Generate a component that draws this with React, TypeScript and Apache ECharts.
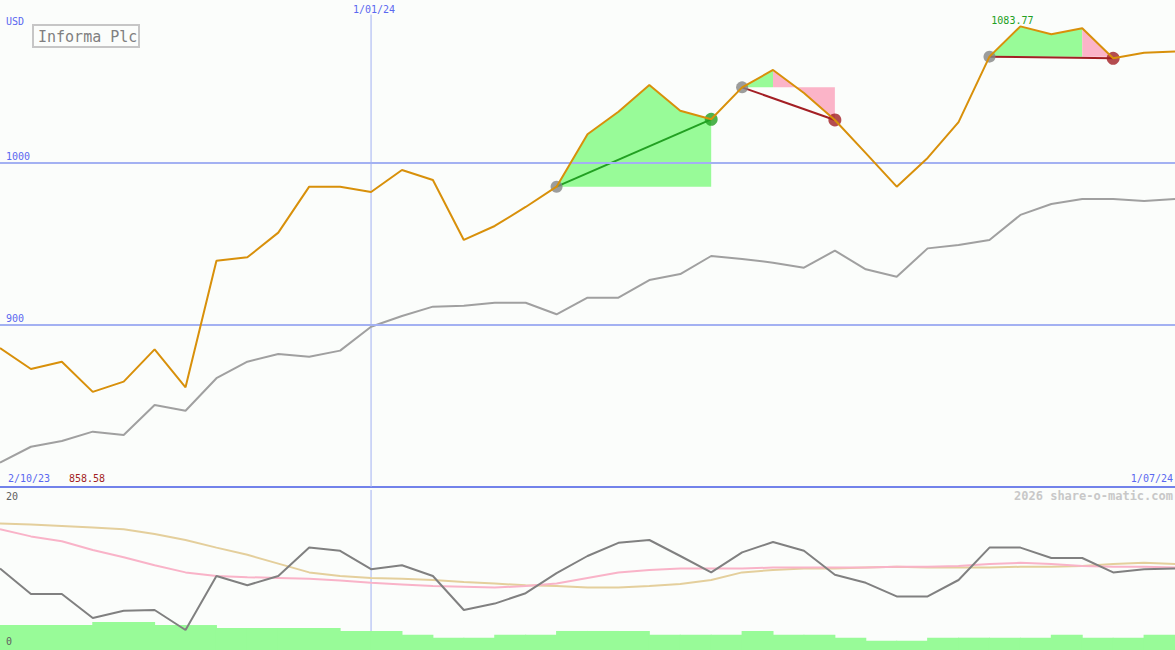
import React, { useEffect, useRef } from "react";
import * as echarts from "echarts";

// ---- data ----
const dates = [
  "9/10/23", "16/10/23", "23/10/23", "30/10/23", "6/11/23", "13/11/23", "20/11/23", "27/11/23",
  "4/12/23", "11/12/23", "18/12/23", "25/12/23", "1/01/24", "8/01/24", "15/01/24", "22/01/24",
  "29/01/24", "5/02/24", "12/02/24", "19/02/24", "26/02/24", "4/03/24", "11/03/24", "18/03/24",
  "25/03/24", "1/04/24", "8/04/24", "15/04/24", "22/04/24", "29/04/24", "6/05/24", "13/05/24",
  "20/05/24", "27/05/24", "3/06/24", "10/06/24", "17/06/24", "24/06/24", "1/07/24",
];
const periodStart = "2/10/23";
const markedDate = "1/01/24";
const title = "Informa Plc";
const currency = "USD";
const credit = "2026 share-o-matic.com";

const price = [
  885.6, 872.7, 877.2, 858.58, 864.9, 884.8, 861.4, 939.4, 941.5, 956.7, 985.0, 985.0, 981.7,
  995.3, 989.1, 952.2, 960.8, 972.5, 985.0, 1017.3, 1031.2, 1047.6, 1031.8, 1026.5, 1046.2,
  1056.9, 1042.7, 1026.1, 1005.7, 985.0, 1002.7, 1024.8, 1065.1, 1083.77, 1078.9, 1082.6,
  1064.1, 1067.5, 1068.2,
];
const movingAvg = [
  815.0, 824.8, 828.3, 834.1, 832.0, 850.5, 847.0, 867.0, 877.2, 881.9, 880.3, 884.0, 898.7,
  905.3, 911.1, 911.7, 913.5, 913.5, 906.4, 916.6, 916.6, 927.5, 931.2, 942.3, 940.5, 938.2,
  935.1, 945.6, 934.1, 929.5, 947.0, 949.1, 952.2, 967.6, 974.3, 977.4, 977.4, 976.2, 977.4,
];
const oscillator = [
  10.2, 7.0, 7.0, 4.0, 4.9, 5.0, 2.5, 9.25, 8.1, 9.25, 12.8, 12.4, 10.1, 10.6, 9.25, 5.0, 5.8,
  7.1, 9.6, 11.75, 13.4, 13.75, 11.75, 9.7, 12.2, 13.5, 12.4, 9.4, 8.4, 6.7, 6.7, 8.75, 12.8,
  12.8, 11.5, 11.5, 9.7, 10.1, 10.2,
];
const signalFast = [
  15.1, 14.2, 13.6, 12.5, 11.6, 10.6, 9.7, 9.25, 9.1, 9.0, 8.9, 8.7, 8.4, 8.2, 8.0, 7.9, 7.8,
  8.0, 8.3, 9.0, 9.7, 10.0, 10.2, 10.2, 10.2, 10.3, 10.3, 10.3, 10.3, 10.4, 10.4, 10.5, 10.75,
  10.9, 10.75, 10.5, 10.4, 10.4, 10.3,
];
const signalSlow = [
  15.8, 15.7, 15.5, 15.3, 15.1, 14.5, 13.75, 12.8, 11.9, 10.8, 9.7, 9.25, 9.0, 8.9, 8.75, 8.5,
  8.3, 8.1, 8.0, 7.8, 7.8, 8.0, 8.25, 8.75, 9.7, 10.0, 10.2, 10.2, 10.3, 10.4, 10.3, 10.3, 10.3,
  10.4, 10.4, 10.5, 10.75, 10.9, 10.75,
];
// one value per week-interval (between consecutive points)
const volume = [
  15.6, 15.6, 15.6, 17.5, 17.5, 15.6, 15.6, 13.8, 13.8, 13.8, 13.8, 11.9, 11.9, 9.6, 7.7, 7.7,
  9.6, 9.6, 11.9, 11.9, 11.9, 9.6, 9.6, 9.6, 11.9, 9.6, 9.6, 7.7, 5.8, 5.8, 7.7, 7.7, 7.7, 7.7,
  9.6, 7.7, 7.7, 9.6,
];
// trades: entry index, exit index, index where fill turns from gain to loss colour
const tradeEntry = [18, 24, 32];
const tradeExit = [23, 27, 36];
const tradeTurn = [23, 25, 35];

// ---- styles ----
const BG = "#fbfdfb";
const ORANGE = "#d8900a";
const GREY = "#a0a0a0";
const GRID_BLUE = "#a3b1f2";
const SEP_BLUE = "#7282ea";
const LABEL_BLUE = "#5a68f0";
const GAIN_FILL = "#98fb98";
const LOSS_FILL = "#fbb4c8";
const GAIN = "#22a022";
const LOSS = "#a31f24";
const MONO = '"DejaVu Sans Mono", monospace';

type Seg = { from: number; to: number; entry: number; gain: boolean };
const segments: Seg[] = [];
tradeEntry.forEach((e, k) => {
  const x = tradeExit[k];
  const t = tradeTurn[k];
  if (t > e) segments.push({ from: e, to: t, entry: e, gain: true });
  if (x > t) segments.push({ from: t, to: x, entry: e, gain: false });
});

export default function App() {
  const ref = useRef<HTMLDivElement>(null);
  useEffect(() => {
    document.body.style.margin = "0";
    const chart = echarts.init(ref.current!, null, { renderer: "svg" });
    const vIdx = dates.indexOf(markedDate);
    const option: any = {
      animation: false,
      backgroundColor: BG,
      grid: [
        { left: 0, right: 0, top: 0, height: 487 },
        { left: 0, right: 0, top: 490, height: 160 },
      ],
      xAxis: [
        {
          type: "category", gridIndex: 0, data: dates, boundaryGap: false,
          axisLine: { show: true, lineStyle: { color: SEP_BLUE, width: 2 } },
          axisTick: { show: false }, axisLabel: { show: false }, splitLine: { show: false },
        },
        { type: "category", gridIndex: 1, data: dates, boundaryGap: false, show: false },
      ],
      yAxis: [
        { type: "value", gridIndex: 0, min: 800, max: 1100, show: false, splitLine: { show: false } },
        { type: "value", gridIndex: 1, min: 0, max: 20, show: false, splitLine: { show: false } },
        { type: "value", gridIndex: 1, min: 0, max: 100, show: false, splitLine: { show: false } },
      ],
      series: [
        {
          type: "custom", xAxisIndex: 0, yAxisIndex: 0, z: 1, silent: true,
          data: segments.map((s) => [s.from, price[s.entry]]),
          renderItem: (params: any, api: any) => {
            const s = segments[params.dataIndex];
            const lvl = price[s.entry];
            const pts: number[][] = [];
            for (let i = s.from; i <= s.to; i++) pts.push(api.coord([i, price[i]]));
            pts.push(api.coord([s.to, lvl]));
            pts.push(api.coord([s.from, lvl]));
            return {
              type: "polygon",
              shape: { points: pts },
              style: { fill: s.gain ? GAIN_FILL : LOSS_FILL },
            };
          },
        },
        {
          type: "line", xAxisIndex: 0, yAxisIndex: 0, z: 1, silent: true, symbol: "none",
          data: [[vIdx, 800], [vIdx, 1091]],
          lineStyle: { color: GRID_BLUE, width: 1 },
        },
        {
          type: "line", xAxisIndex: 1, yAxisIndex: 1, z: 1, silent: true, symbol: "none",
          data: [[vIdx, 0], [vIdx, 20]],
          lineStyle: { color: GRID_BLUE, width: 1 },
        },
        {
          name: "avg", type: "line", xAxisIndex: 0, yAxisIndex: 0, z: 2, silent: true,
          symbol: "none", data: movingAvg, lineStyle: { color: GREY, width: 2 },
          markLine: {
            silent: true, symbol: "none", label: { show: false },
            lineStyle: { color: GRID_BLUE, width: 2, type: "solid" },
            data: [{ yAxis: 900 }, { yAxis: 1000 }],
          },
        },
        ...tradeEntry.map((e, k) => {
          const x = tradeExit[k];
          return {
            type: "line", xAxisIndex: 0, yAxisIndex: 0, z: 3, silent: true, symbol: "none",
            data: [[e, price[e]], [x, price[x]]],
            lineStyle: { color: price[x] >= price[e] ? GAIN : LOSS, width: 2 },
          };
        }),
        {
          type: "scatter", xAxisIndex: 0, yAxisIndex: 0, z: 4, silent: true, symbolSize: 12,
          data: tradeEntry.map((e) => [e, price[e]]),
          itemStyle: { color: "#858585" },
        },
        {
          type: "scatter", xAxisIndex: 0, yAxisIndex: 0, z: 4, silent: true, symbolSize: 13,
          data: tradeExit.map((x, k) => ({
            value: [x, price[x]],
            itemStyle: { color: price[x] >= price[tradeEntry[k]] ? GAIN : LOSS },
          })),
        },
        {
          name: "price", type: "line", xAxisIndex: 0, yAxisIndex: 0, z: 5, silent: true,
          symbol: "none", data: price, lineStyle: { color: ORANGE, width: 2 },
        },
        {
          type: "custom", xAxisIndex: 1, yAxisIndex: 2, z: 2, silent: true,
          data: volume.map((v, i) => [i, v]),
          renderItem: (params: any, api: any) => {
            const i = api.value(0);
            const v = api.value(1);
            const a = api.coord([i, v]);
            const b = api.coord([i + 1, 0]);
            return {
              type: "rect",
              shape: { x: a[0] - 0.5, y: a[1], width: b[0] - a[0] + 1, height: b[1] - a[1] },
              style: { fill: GAIN_FILL },
            };
          },
        },
        {
          type: "line", xAxisIndex: 1, yAxisIndex: 1, z: 3, silent: true, symbol: "none",
          data: signalSlow, lineStyle: { color: "#e4cf9c", width: 2 },
        },
        {
          type: "line", xAxisIndex: 1, yAxisIndex: 1, z: 3, silent: true, symbol: "none",
          data: signalFast, lineStyle: { color: "#f9b3c8", width: 2 },
        },
        {
          type: "line", xAxisIndex: 1, yAxisIndex: 1, z: 4, silent: true, symbol: "none",
          data: oscillator, lineStyle: { color: "#808080", width: 2 },
        },
      ],
    };
    chart.setOption(option);

    const P = (i: number, v: number) => chart.convertToPixel({ gridIndex: 0 }, [i, v]) as number[];
    const y1000 = P(0, 1000)[1];
    const y900 = P(0, 900)[1];
    const xMark = P(vIdx, 1000)[0];
    let maxI = 0;
    price.forEach((v, i) => { if (v > price[maxI]) maxI = i; });
    const maxP = P(maxI, price[maxI]);
    const minV = Math.min(...price);
    const bottom = P(0, 800)[1];
    const lowTop = chart.convertToPixel({ gridIndex: 1 }, [0, 20]) as number[];
    const lowBottom = chart.convertToPixel({ gridIndex: 1 }, [0, 0]) as number[];
    const txt = (text: string, x: number, y: number, fill: string, size: number, align = "left", weight = "normal") => ({
      type: "text", x, y, silent: true, z: 10,
      style: {
        text, fill, fontSize: size, fontFamily: MONO, fontWeight: weight,
        textAlign: align, textVerticalAlign: "middle", align, verticalAlign: "middle",
      },
    });
    chart.setOption({
      graphic: [
        txt(currency, 6, 21, LABEL_BLUE, 10),
        {
          type: "rect", silent: true, z: 10,
          shape: { x: 33, y: 25, width: 106, height: 22 },
          style: { fill: "none", stroke: "#c6c6c6", lineWidth: 2 },
        },
        txt(title, 38, 36.5, "#808080", 15),
        txt("1000", 6, y1000 - 6, LABEL_BLUE, 10),
        txt("900", 6, y900 - 6, LABEL_BLUE, 10),
        txt(markedDate, xMark + 3, 9, LABEL_BLUE, 10, "center"),
        txt(periodStart, 8, bottom - 9, LABEL_BLUE, 10),
        txt(minV.toFixed(2), 69, bottom - 9, LOSS, 10),
        txt(dates[dates.length - 1], 1173, bottom - 9, LABEL_BLUE, 10, "right"),
        txt(price[maxI].toFixed(2), maxP[0] - 8, maxP[1] - 6, GAIN, 10, "center"),
        txt("20", 6, lowTop[1] + 6, "#606060", 10),
        txt("0", 6, lowBottom[1] - 9, "#606060", 10),
        txt(credit, 1173, lowTop[1] + 6, "#c8c8c8", 12, "right", "bold"),
      ],
    });
    return () => chart.dispose();
  }, []);
  return <div ref={ref} style={{ width: 1175, height: 650 }} />;
}
